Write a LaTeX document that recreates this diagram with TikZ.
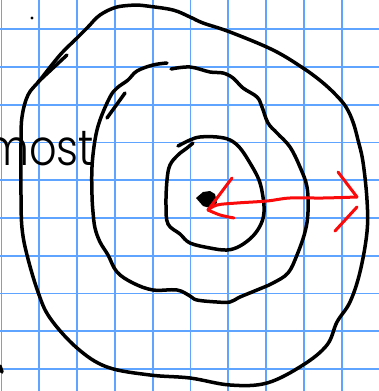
\documentclass[tikz,border=0pt]{standalone}
\usepackage{fontspec}
\setmainfont{Poppins}
\newfontfamily\wordfont{Poppins Light}
\definecolor{gridblue}{RGB}{95,165,255}
\definecolor{penred}{RGB}{250,10,10}
\tikzset{
  ink/.style={line width=3.5pt, line cap=round, line join=round},
  redink/.style={ink, draw=penred, line width=3pt}
}
\begin{document}
\begin{tikzpicture}[x=1pt, y=-1pt]
  \useasboundingbox[fill=white] (0,0) rectangle (379,391);
  \begin{scope}
    \clip (0,0) rectangle (379,391);
    % grid paper
    \foreach \k in {0,...,10} {
      \draw[gridblue, line width=1.7pt] (1.5+37.8*\k,0) -- (1.5+37.8*\k,391);
      \draw[gridblue, line width=1.7pt] (0,29.3+37.75*\k) -- (379,29.3+37.75*\k);
    }
    % label
    \node[anchor=base west, inner sep=0pt, font=\wordfont\fontsize{50}{50}\selectfont] (word) at (-15,165) {\scalebox{0.86}[1]{most}};
    % outer loop
    \draw[ink] plot[smooth, tension=0.6] coordinates {(137,5) (147,6) (173,10) (190,17) (203,23) (230,32) (273,50) (303,68) (322,82) (336,95) (346,107) (353,122) (358,140) (363,162) (367,200) (367,232) (360,272) (350,302) (337,322) (327,345) (303,365) (267,383) (230,385) (190,378) (150,375) (107,367) (77,348) (50,318) (38,292) (27,255) (22,228) (21,195) (21,143) (22,117) (28,95) (40,80) (60,55) (77,38) (88,27) (100,15) (117,7) (137,5)};
    \draw[ink] (38,82) -- (67,55);
    \draw[ink] (0,366) -- (2,372);
    \fill (32,18) circle (1.6);
    % middle loop
    \draw[ink] plot[smooth, tension=0.6] coordinates {(167,63) (153,65) (137,71) (128,80) (117,88) (110,97) (100,120) (95,140) (92,167) (92,195) (93,212) (95,228) (100,242) (108,255) (117,272) (133,283) (153,290) (177,290) (190,296) (197,300) (217,302) (230,302) (240,297) (257,290) (273,283) (288,273) (297,255) (305,232) (308,212) (307,187) (300,167) (290,147) (277,133) (268,123) (262,107) (257,97) (243,88) (233,78) (223,73) (210,72) (190,67) (171,69)};
    \draw[ink] (125,93) -- (107,118);
    % inner loop
    \draw[ink] plot[smooth, tension=0.6] coordinates {(178,146) (190,140) (200,137) (217,137) (230,140) (240,148) (250,163) (259,180) (263,197) (264,212) (261,224) (253,236) (240,246) (227,250) (210,248) (190,243) (180,234) (168,224) (166,205) (167,180) (170,165) (178,155) (187,148) (193,143)};
    % centre
    \fill[ink] (196,198) -- (203,192) -- (210,191) -- (215,194) -- (217,203) -- (210,208) -- (203,206) -- cycle;
    % red double arrow
    \draw[redink] plot[smooth, tension=0.6] coordinates {(208,210) (217,205) (237,203) (267,201) (290,198) (323,198) (357,197)};
    \draw[redink] (232,178) -- (208,210);
    \draw[redink] plot[smooth] coordinates {(208,210) (220,215) (234,218)};
    \draw[redink] (338,172) -- (357,197);
    \draw[redink] (357,207) -- (335,231);
  \end{scope}
\end{tikzpicture}
\end{document}
